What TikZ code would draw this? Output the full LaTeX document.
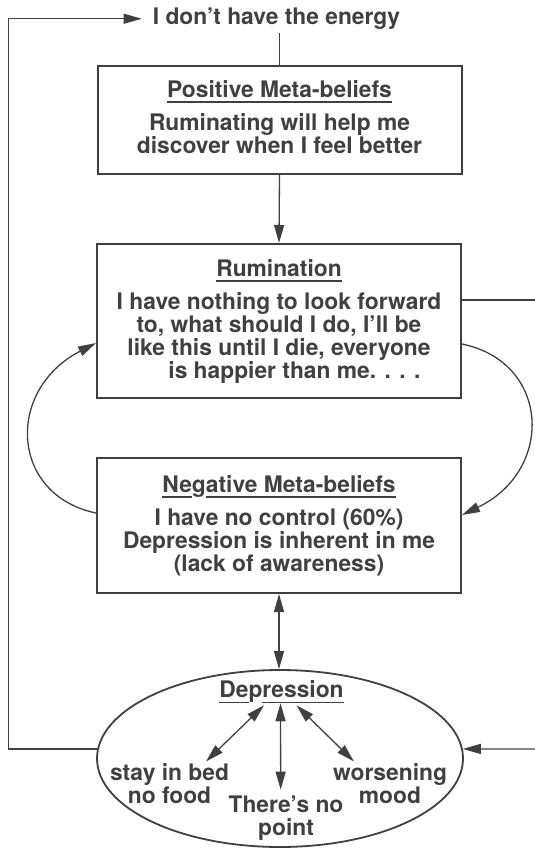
\documentclass[tikz,border=0pt]{standalone}
\usepackage{fontspec}
\setmainfont{TeX Gyre Heros}
\usepackage{xcolor}
\usepackage{tikz}
\usetikzlibrary{arrows.meta,shapes.geometric}
\definecolor{ink}{gray}{0.25}
\newcommand{\ulbar}[1]{\setbox0\hbox{#1}\rlap{\rule[-5.8pt]{\wd0}{1.6pt}}\box0}

\begin{document}
\begin{tikzpicture}[x=1pt,y=-1pt,
    every node/.style={font=\fontsize{22.8}{23}\selectfont\bfseries, text=ink},
    box/.style={draw=ink, line width=2pt, align=center, inner sep=0pt, minimum width=364pt},
    lbl/.style={align=center, inner sep=0pt},
    link/.style={draw=ink, line width=1.3pt},
    arr/.style={-{Triangle[length=18pt,width=10pt]}},
    dbl/.style={{Triangle[length=18pt,width=10pt]}-{Triangle[length=18pt,width=10pt]}}]
    \useasboundingbox (0,0) rectangle (535,851);
    % boxes
    \node[inner xsep=11pt, inner ysep=3pt] (energy) at (276.5,18.75) {I don’t have the energy};
    \node[box, minimum height=108pt] (pos) at (279.5,120)
        {\ulbar{Positive Meta-beliefs}\\[10pt] Ruminating will help me\\discover when I feel better\strut};
    \node[box, minimum height=154pt] (rum) at (279,321)
        {\ulbar{Rumination}\\[10pt] I have nothing to look forward\\to, what should I do, I’ll be\\like this until I die, everyone\\\hspace*{31pt}is happier than me. . . .};
    \node[box, minimum height=135pt] (neg) at (279,525.5)
        {\ulbar{Ne}g\ulbar{ative Meta-beliefs}\\[10pt] I have no control (60\%)\\Depression is inherent in me\\(lack of awareness)};
    \node[draw=ink, line width=1.8pt, ellipse, minimum width=366pt, minimum height=177pt, inner sep=0pt] (dep) at (280,758.5) {};
    \node[lbl] (dtitle) at (281.5,691.7) {\ulbar{De}p\ulbar{ression}};
    \node[lbl] (bed) at (169.5,783.3) {stay in bed\\no food};
    \node[lbl] (point) at (286,817.7) {There’s no\\point};
    \node[lbl] (mood) at (390,783.3) {worsening\\mood};
    \coordinate (lx) at (8.5,0);
    \coordinate (rtop) at (535,300);
    \coordinate (rbot) at (535,749);

    % main column
    \draw[link] (energy.south -| pos.north) -- (pos.north);
    \draw[link,arr] (pos.south) -- (rum.north);
    \draw[link,dbl] (neg.south) -- (neg.south |- dep.north);

    % loops
    \draw[link,arr] ([yshift=-23pt]rum.east) .. controls (550,362) and (555,470) .. ([yshift=10.5pt]neg.east);
    \draw[link,arr] ([yshift=12.5pt]neg.west) .. controls (10,495) and (5,390) .. ([yshift=-22pt]rum.west);
    \draw[link,arr] (dep.177) -| (lx |- energy.west) -- (energy.west);
    \draw[link] (rtop -| rum.east) -- (rtop);
    \draw[link,arr] (rbot) -- (dep.3);

    % inside depression
    \draw[link,dbl] ([xshift=-17.5pt,yshift=-2pt]dtitle.south) -- ([xshift=36.5pt,yshift=1.5pt]bed.north);
    \draw[link,dbl] ([xshift=-1pt]dtitle.south) -- ([xshift=-5.3pt,yshift=5.6pt]point.north);
    \draw[link,dbl] ([xshift=15pt,yshift=-2pt]dtitle.south) -- ([xshift=-36pt,yshift=1.5pt]mood.north);
\end{tikzpicture}
\end{document}
